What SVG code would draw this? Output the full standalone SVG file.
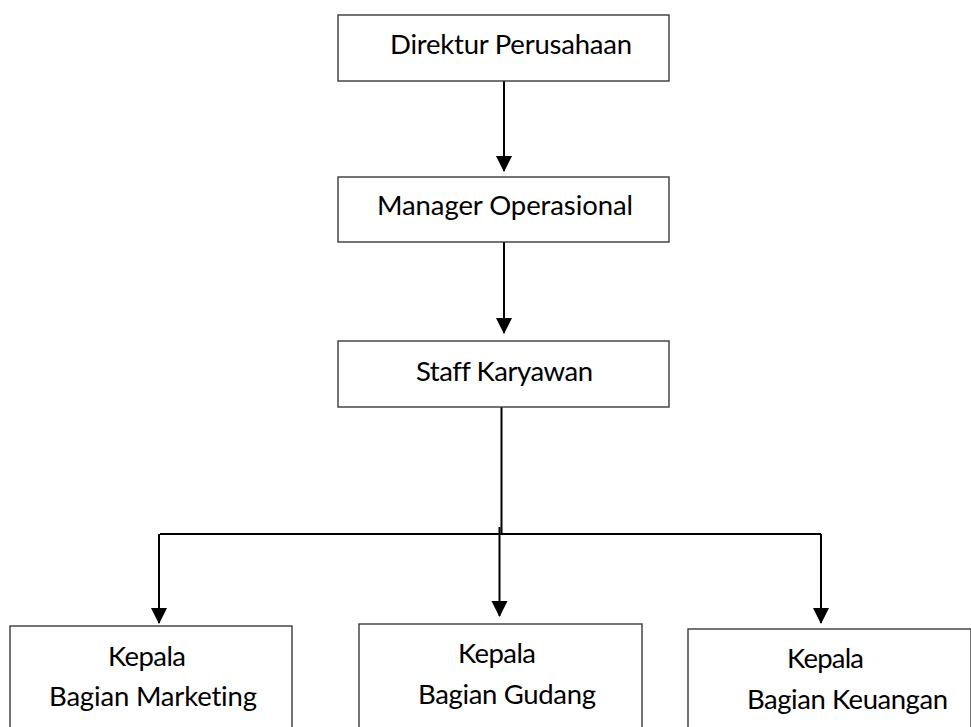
<svg xmlns="http://www.w3.org/2000/svg" width="971" height="727" viewBox="0 0 971 727">
<style>
.box{fill:#fff;stroke:#3a3a3a;stroke-width:1.4}
.t{font-family:Lato,"Open Sans",sans-serif;font-size:27.5px;fill:#000;font-variant-ligatures:none}
.c{fill:none;stroke:#000;stroke-width:2}
</style>
<defs>
<marker id="ah" markerUnits="userSpaceOnUse" markerWidth="16" markerHeight="17" refX="15" refY="8" orient="auto" viewBox="0 0 16 16">
<path d="M0,0 L16,8 L0,16 Z" fill="#000"/>
</marker>
</defs>
<rect width="971" height="727" fill="#fff"/>
<g id="connectors">
<line class="c" x1="504" y1="81" x2="504" y2="171" marker-end="url(#ah)"/>
<line class="c" x1="504" y1="242" x2="504" y2="333" marker-end="url(#ah)"/>
<line class="c" x1="501.5" y1="407" x2="501.5" y2="534"/>
<line class="c" x1="160" y1="534" x2="821" y2="534"/>
<line class="c" x1="159" y1="534" x2="159" y2="623" marker-end="url(#ah)"/>
<line class="c" x1="499.5" y1="527" x2="499.5" y2="616" marker-end="url(#ah)"/>
<line class="c" x1="821" y1="534" x2="821" y2="623" marker-end="url(#ah)"/>
</g>
<g id="direktur">
<rect class="box" x="338" y="15" width="331" height="66"/>
<text class="t" x="390" y="54" textLength="242">Direktur Perusahaan</text>
</g>
<g id="manager">
<rect class="box" x="338" y="177" width="331" height="65"/>
<text class="t" x="377" y="215" textLength="256">Manager Operasional</text>
</g>
<g id="staff">
<rect class="box" x="338" y="341" width="331" height="66"/>
<text class="t" x="416" y="381" textLength="177">Staff Karyawan</text>
</g>
<g id="marketing">
<rect class="box" x="10" y="626" width="282" height="110"/>
<text class="t" x="108" y="666" textLength="78">Kepala</text>
<text class="t" x="49" y="706" textLength="208">Bagian Marketing</text>
</g>
<g id="gudang">
<rect class="box" x="359" y="624" width="283" height="110"/>
<text class="t" x="458" y="663" textLength="78">Kepala</text>
<text class="t" x="418" y="704" textLength="178">Bagian Gudang</text>
</g>
<g id="keuangan">
<rect class="box" x="688" y="629" width="283" height="110"/>
<text class="t" x="787" y="668" textLength="77">Kepala</text>
<text class="t" x="747" y="709" textLength="201">Bagian Keuangan</text>
</g>
</svg>
